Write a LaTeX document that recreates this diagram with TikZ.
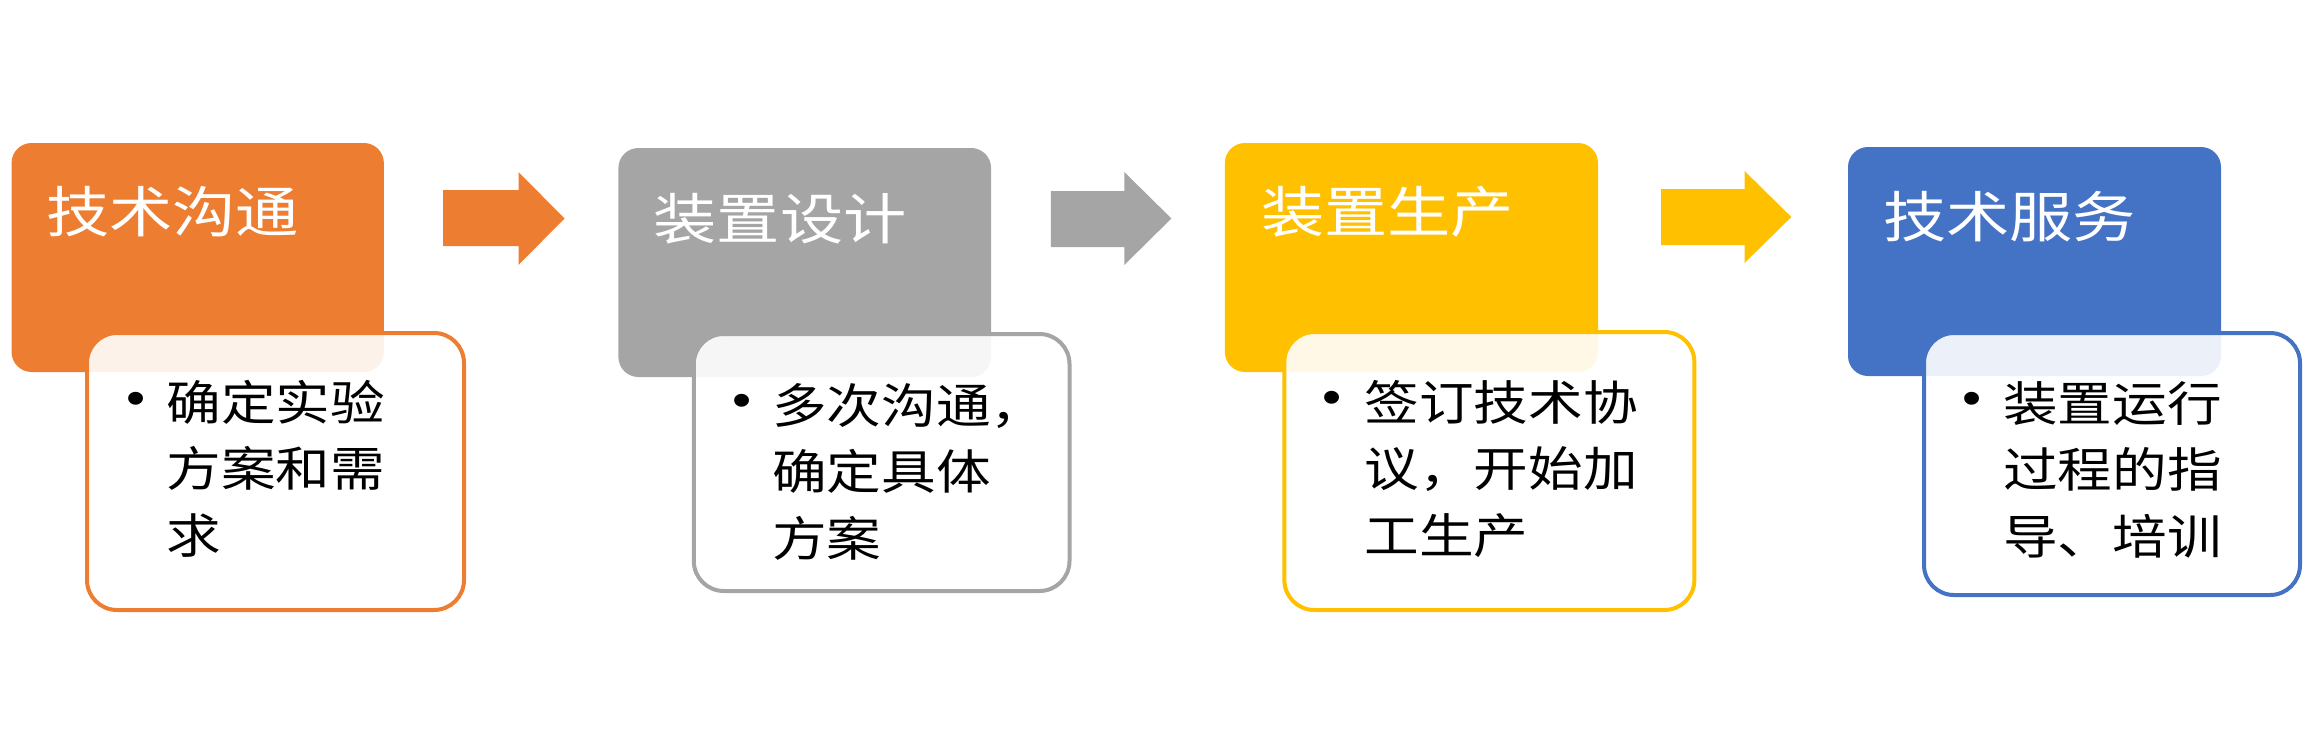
\documentclass[tikz,border=0pt]{standalone}
\usepackage{fontspec}
\setmainfont{Noto Sans CJK SC}[FakeStretch=1.15]
\newfontfamily\bulletfont{Liberation Sans}[FakeStretch=1.15]
\definecolor{corange}{HTML}{ED7D31}
\definecolor{cgray}{HTML}{A5A5A5}
\definecolor{cyellow}{HTML}{FFC000}
\definecolor{cblue}{HTML}{4472C4}
\newcommand{\itemlines}[1]{\vtop{\baselineskip=66.5pt\halign{##\hfil\cr#1\crcr}}}
\tikzset{
  topbox/.style={rectangle, rounded corners=20pt, draw=none, inner sep=0pt},
  subbox/.style={rectangle, rounded corners=30pt, line width=4pt, fill=white, fill opacity=0.9, draw opacity=1, inner sep=0pt},
  title/.style={anchor=base west, inner sep=0pt, text=white, font=\fontsize{55}{66}\selectfont},
  body/.style={anchor=base west, inner sep=0pt, text=black, font=\fontsize{47.5}{66.5}\selectfont},
  bullet/.style={anchor=center, inner sep=0pt, text=black, font=\bulletfont\fontsize{47.5}{57}\selectfont},
  blockarrow/.style={draw=none}
}
\begin{document}
\begin{tikzpicture}[x=1pt,y=-1pt]
\useasboundingbox (0,0) rectangle (2303,750);

% step 1
\node[topbox, fill=corange, minimum width=372.3, minimum height=229] (t1) at (197.7,257.5) {};
\node[subbox, draw=corange, minimum width=377, minimum height=277] (s1) at (275.5,471.5) {};
\node[title] (h1) at (46,232) {技术沟通};
\node[bullet] (b1) at (136,403) {•};
\node[body] (x1) at (166.5,420) {\itemlines{确定实验\cr 方案和需\cr 求}};

% arrow 1
\fill[corange, blockarrow] (443.2,190) -- (518.5,190) -- (518.5,172) -- (564.5,218.5) -- (518.5,265) -- (518.5,246) -- (443.2,246) -- cycle;

% step 2
\node[topbox, fill=cgray, minimum width=372.7, minimum height=229] (t2) at (804.75,262.5) {};
\node[subbox, draw=cgray, minimum width=375.7, minimum height=257] (s2) at (881.65,462.5) {};
\node[title] (h2) at (653.5,239) {装置设计};
\node[bullet] (b2) at (741.6,405) {•};
\node[body] (x2) at (772,423) {\itemlines{多次沟通，\cr 确定具体\cr 方案}};

% arrow 2
\fill[cgray, blockarrow] (1050.8,191) -- (1124.3,191) -- (1124.3,172) -- (1171.4,218.5) -- (1124.3,265) -- (1124.3,247) -- (1050.8,247) -- cycle;

% step 3
\node[topbox, fill=cyellow, minimum width=373.1, minimum height=229] (t3) at (1411.45,257.5) {};
\node[subbox, draw=cyellow, minimum width=410, minimum height=278] (s3) at (1489.35,471) {};
\node[title] (h3) at (1261,232) {装置生产};
\node[bullet] (b3) at (1332,402) {•};
\node[body] (x3) at (1364.5,420) {\itemlines{签订技术协\cr 议，开始加\cr 工生产}};

% arrow 3
\fill[cyellow, blockarrow] (1661.2,189) -- (1744.6,189) -- (1744.6,171) -- (1791.3,217) -- (1744.6,263) -- (1744.6,245) -- (1661.2,245) -- cycle;

% step 4
\node[topbox, fill=cblue, minimum width=373, minimum height=229] (t4) at (2034.5,261.5) {};
\node[subbox, draw=cblue, minimum width=376, minimum height=262] (s4) at (2112,464) {};
\node[title] (h4) at (1883,237) {技术服务};
\node[bullet] (b4) at (1972,403) {•};
\node[body] (x4) at (2003,421) {\itemlines{装置运行\cr 过程的指\cr 导、培训}};
\end{tikzpicture}
\end{document}
